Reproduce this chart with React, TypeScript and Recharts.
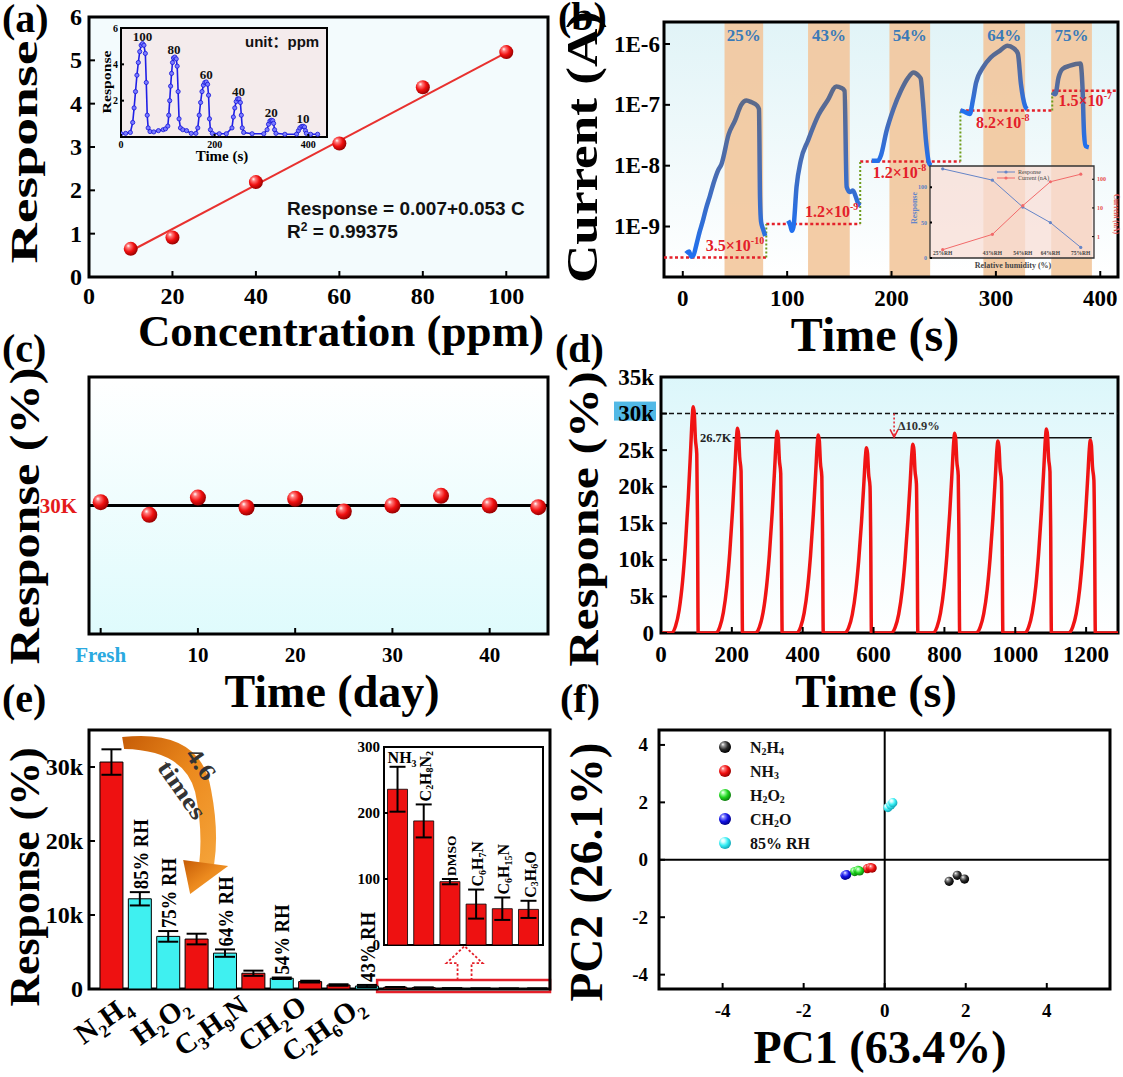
import React from 'react';
import {
  ComposedChart, Line, Scatter, Bar, Cell, ErrorBar, XAxis, YAxis,
  ReferenceArea, ReferenceLine, ReferenceDot,
} from 'recharts';

const SERIF = "'Liberation Serif','Times New Roman',Times,serif";
const SANS = "'Liberation Sans',Arial,'Noto Sans CJK SC',sans-serif";

// ================= DATA =================
// (a) linear calibration
const aConcentration = [10, 20, 40, 60, 80, 100];
const aResponse = [0.65, 0.91, 2.19, 3.08, 4.38, 5.19];
const aFitConcentration = [10, 100];
const aFitResponse = [0.6, 5.18];
const aTicksX = [0, 20, 40, 60, 80, 100];
const aTicksY = [0, 1, 2, 3, 4, 5, 6];
// (a) inset: dynamic response trace [time s, response]
const aInsetTrace: [number, number][] = [
  [0, 0.18], [10, 0.2], [20, 0.25], [25, 0.8], [28, 1.6], [31, 2.5], [34, 3.4], [37, 4.1], [40, 4.7], [43, 5.05], [46, 5.14], [49, 5.05], [52, 4.6], [54, 3.0], [56, 1.2], [58, 0.5], [62, 0.3],
  [70, 0.28], [80, 0.35], [90, 0.4], [95, 0.45], [100, 0.6], [102, 1.2], [104, 2.0], [106, 2.8], [108, 3.5], [110, 4.1], [112, 4.35], [115, 4.4], [118, 4.3], [120, 3.9], [122, 2.5], [124, 1.0], [127, 0.5], [132, 0.4], [140, 0.35], [150, 0.2], [160, 0.2],
  [164, 0.5], [167, 1.2], [170, 1.9], [173, 2.5], [176, 2.85], [179, 3.0], [182, 3.03], [185, 2.9], [187, 2.3], [189, 1.0], [191, 0.4], [195, 0.2], [210, 0.18], [225, 0.18],
  [237, 0.5], [240, 1.1], [243, 1.6], [246, 1.95], [249, 2.1], [252, 2.1], [255, 1.9], [257, 1.2], [259, 0.5], [262, 0.25], [280, 0.18], [305, 0.18],
  [312, 0.4], [315, 0.7], [318, 0.88], [321, 0.92], [324, 0.9], [326, 0.75], [328, 0.4], [331, 0.2], [350, 0.15], [375, 0.16],
  [379, 0.35], [382, 0.5], [386, 0.58], [389, 0.59], [392, 0.55], [394, 0.35], [396, 0.2], [405, 0.15], [420, 0.15],
];
const aInsetPeakTime = [46, 113, 182, 251, 321, 389];
const aInsetPeakResp = [5.14, 4.4, 3.03, 2.11, 0.92, 0.59];
const aInsetPeakLabel = ['100', '80', '60', '40', '20', '10'];
const aInsetTicksX = [0, 200, 400];
const aInsetTicksY = [2, 4, 6];

// (b) current vs time under humidity pulses [time s, current A]
const bSeg1: [number, number][] = [[3, 3.6e-10], [6, 3.9e-10], [8, 3.2e-10], [10, 3.3e-10], [13, 5e-10], [16, 8e-10], [19, 1.2e-9], [22, 1.9e-9], [26, 3.2e-9], [30, 5.5e-9], [34, 8.5e-9], [37, 1.05e-8], [44, 3.3e-8], [50, 5.5e-8], [56, 1e-7], [61, 1.18e-7], [66, 1.1e-7], [71, 9.8e-8], [73, 8.5e-8], [74, 3e-9], [75, 1.2e-9], [77, 9e-10], [79, 7e-10]];
const bSeg2: [number, number][] = [[101, 1.25e-9], [103, 1.05e-9], [104.5, 8.5e-10], [106, 9.7e-10], [109, 4.5e-9], [113, 1.2e-8], [120, 2.6e-8], [130, 6.8e-8], [139, 1.2e-7], [147, 2e-7], [152, 1.9e-7], [155, 1.7e-7], [157, 4.5e-9], [160, 3.7e-9], [163, 3.9e-9], [166, 3e-9], [168, 2.4e-9], [170, 2.2e-9]];
const bSeg3: [number, number][] = [[181, 1.2e-8], [187, 1.2e-8], [190, 1.5e-8], [195, 3.6e-8], [202, 8.7e-8], [209, 1.7e-7], [216, 2.8e-7], [221, 3.4e-7], [226, 3e-7], [228, 2.7e-7], [230, 1.2e-7], [233, 2.6e-8], [236, 1.1e-8], [238, 1e-8]];
const bSeg4: [number, number][] = [[266, 8.1e-8], [269, 7.8e-8], [275, 7.1e-8], [278, 1.2e-7], [281, 2.3e-7], [288, 4.2e-7], [295, 6e-7], [304, 7.8e-7], [311, 9.4e-7], [317, 8.5e-7], [321, 7e-7], [324, 2.2e-7], [328, 9.5e-8], [330, 8.5e-8]];
const bSeg5: [number, number][] = [[354, 1.6e-7], [357, 1.5e-7], [360, 2.8e-7], [364, 3.9e-7], [371, 4.4e-7], [381, 4.8e-7], [383, 1.9e-7], [384.5, 3.3e-8], [386, 2.1e-8], [389, 2e-8]];
const bBandStart = [40, 120, 198, 288, 353];
const bBandEnd = [77, 160, 237, 328, 392];
const bBandLabel = ['25%', '43%', '54%', '64%', '75%'];
const bBaseStart = [-18, 80, 170, 266, 354];
const bBaseEnd = [80, 170, 266, 354, 417];
const bBaseLevel = [3.1e-10, 1.1e-9, 1.17e-8, 8.1e-8, 1.7e-7];
const bBaseMantissa = ['3.5', '1.2', '1.2', '8.2', '1.5'];
const bBaseExponent = ['-10', '-9', '-8', '-8', '-7'];
const bBaseLabelT = [22, 117, 182, 281, 360];
const bBaseLabelI = [3.9e-10, 1.45e-9, 6.3e-9, 4.2e-8, 9.4e-8];
const bTicksX = [0, 100, 200, 300, 400];
const bTicksY = [1e-9, 1e-8, 1e-7, 1e-6];
// (b) inset
const bInsetRH = [25, 43, 54, 64, 75];
const bInsetResponse = [126, 110, 72, 50, 15];
const bInsetCurrent = [0.35, 1.2, 12, 82, 150];

// (c) long-term stability
const cDays = [0, 5, 10, 15, 20, 25, 30, 35, 40, 45];
const cResponse = [30780, 27830, 31860, 29530, 31550, 28600, 30000, 32250, 30000, 29610];
const cTicksX = [0, 10, 20, 30, 40];

// (d) repeated cycles [time s, response %]
const dTrace: [number, number][] = [
  [0, 0], [29, 0], [41, 930], [51, 3090], [61, 7120], [69, 12070], [77, 18560], [84, 25370], [88, 29390], [91, 30940], [94, 30010], [97, 26610], [101, 24440], [103, 15470], [105, 0],
  [154, 0], [166, 840], [176, 2800], [186, 6440], [194, 10920], [202, 16800], [209, 22960], [213, 26600], [216, 28000], [219, 27160], [222, 24080], [226, 22120], [228, 14000], [230, 0],
  [266, 0], [278, 830], [288, 2760], [298, 6350], [306, 10760], [314, 16560], [321, 22630], [325, 26220], [328, 27600], [331, 26770], [334, 23740], [338, 21800], [340, 13800], [342, 0],
  [382, 0], [394, 810], [404, 2710], [414, 6230], [422, 10560], [430, 16240], [437, 22200], [441, 25720], [444, 27070], [447, 26260], [450, 23280], [454, 21390], [456, 13540], [458, 0],
  [518, 0], [530, 760], [540, 2530], [550, 5830], [558, 9880], [566, 15200], [573, 20780], [577, 24070], [580, 25340], [583, 24580], [586, 21790], [590, 20020], [592, 12670], [594, 0],
  [649, 0], [661, 770], [671, 2580], [681, 5930], [689, 10060], [697, 15480], [704, 21160], [708, 24510], [711, 25800], [714, 25030], [717, 22190], [721, 20380], [723, 12900], [725, 0],
  [767, 0], [779, 820], [789, 2730], [799, 6280], [807, 10650], [815, 16380], [822, 22390], [826, 25940], [829, 27300], [832, 26480], [835, 23480], [839, 21570], [841, 13650], [843, 0],
  [889, 0], [901, 790], [911, 2630], [921, 6040], [929, 10240], [937, 15750], [944, 21530], [948, 24940], [951, 26250], [954, 25460], [957, 22580], [961, 20740], [963, 13130], [965, 0],
  [1026, 0], [1038, 840], [1048, 2790], [1058, 6410], [1066, 10880], [1074, 16730], [1081, 22870], [1085, 26500], [1088, 27890], [1091, 27050], [1094, 23990], [1098, 22030], [1100, 13950], [1102, 0],
  [1150, 0], [1162, 790], [1172, 2640], [1182, 6070], [1190, 10290], [1198, 15830], [1205, 21640], [1209, 25070], [1212, 26390], [1215, 25600], [1218, 22700], [1222, 20850], [1224, 13200], [1226, 0],
  [1290, 0],
];
const dTicksX = [0, 200, 400, 600, 800, 1000, 1200];
const dTicksY = [0, 5000, 10000, 15000, 20000, 25000, 30000, 35000];

// (e) selectivity
const eMainCategories = ['N2H4', '85% RH', '75% RH', 'H2O2', '64% RH', 'C3H9N', '54% RH', 'CH2O', 'C2H6O2', '43% RH'];
const eMainValues = [30670, 12190, 7110, 6750, 4850, 2130, 1450, 1000, 540, 400];
const eMainErrors = [1720, 900, 720, 720, 500, 350, 100, 120, 100, 150];
const eTraceCategories = ['NH3', 'C2H8N2', 'DMSO', 'C6H7N', 'C6H15N', 'C3H6O'];
const eTraceValues = [236, 188, 96, 62, 55, 54];
const eTraceErrors = [34, 25, 4, 22, 17, 13];
const eTickNames = ['N2H4', 'H2O2', 'C3H9N', 'CH2O', 'C2H6O2'];
const eTickPos = [0.8, 2.85, 4.9, 6.95, 9.0];
const eTicksY = [0, 10000, 20000, 30000];
const eInsetTicksY = [0, 100, 200, 300];

// (f) PCA scores [PC1, PC2]
const fN2H4: [number, number][] = [[1.59, -0.75], [1.79, -0.54], [1.97, -0.67]];
const fNH3: [number, number][] = [[-0.43, -0.31], [-0.36, -0.27], [-0.31, -0.29]];
const fH2O2: [number, number][] = [[-0.74, -0.41], [-0.66, -0.37], [-0.62, -0.39]];
const fCH2O: [number, number][] = [[-0.98, -0.54], [-0.94, -0.52]];
const fRH85: [number, number][] = [[0.08, 1.82], [0.15, 1.91], [0.2, 1.99]];
const fTicks = [-4, -2, 0, 2, 4];

// ================= HELPERS =================
type Frame = { x1: number; y1: number; x2: number; y2: number };
type Pad = { l: number; t: number; r: number; b: number };
const geom = (f: Frame, p: Pad, z = 1) => ({
  w: f.x2 - f.x1 + p.l + p.r,
  h: f.y2 - f.y1 + p.t + p.b,
  style: { position: 'absolute' as const, left: f.x1 - p.l, top: f.y1 - p.t, zIndex: z },
});
const axisBase: any = { axisLine: false, tickLine: false, tickSize: 0, tickMargin: 0, interval: 0, allowDataOverflow: true };
const xy = (arr: [number, number][]) => arr.map(([x, y]) => ({ x, y }));

const formula = (s: string, fs: number, shift = 0.28) => {
  const parts = s.match(/\d+|\D+/g) || [];
  let prevSub = false;
  return parts.map((p, i) => {
    const isSub = /^\d+$/.test(p);
    const dy = isSub ? fs * shift : prevSub ? -fs * shift : 0;
    prevSub = isSub;
    return <tspan key={i} fontSize={isSub ? fs * 0.62 : fs} dy={dy}>{p}</tspan>;
  });
};

function XTick(p: any) {
  const { x, y, payload, fs, dy = 24, inner = 0, fmt, colorFn, family = SERIF } = p;
  const v = payload.value;
  const label = fmt ? fmt(v) : String(v);
  return (
    <g>
      {inner ? <line x1={x} x2={x} y1={y} y2={y - inner} stroke="#000" strokeWidth={2} /> : null}
      <text x={x} y={y + dy} textAnchor="middle" fontSize={fs} fontFamily={family} fontWeight="bold" fill={colorFn ? colorFn(v) : '#000'}>{label}</text>
    </g>
  );
}
function YTick(p: any) {
  const { x, y, payload, fs, dx = 6, inner = 0, fmt, colorFn, hl, right } = p;
  const v = payload.value;
  const label = fmt ? fmt(v) : String(v);
  const s = right ? 1 : -1;
  return (
    <g>
      {inner ? <line x1={x} x2={x - s * inner} y1={y} y2={y} stroke="#000" strokeWidth={right ? 1 : 2} /> : null}
      {hl && hl(v) ? <rect x={x - dx - 40} y={y - 12} width={42} height={19} fill="#52b9e6" /> : null}
      <text x={x + s * dx} y={y} textAnchor={right ? 'start' : 'end'} dominantBaseline="central" fontSize={fs} fontFamily={SERIF} fontWeight="bold" fill={colorFn ? colorFn(v) : '#000'}>{label}</text>
    </g>
  );
}
const kfmt = (v: number) => (v === 0 ? '0' : `${v / 1000}k`);
const sphere = (r: number, id: string) => (p: any) => <circle cx={p.cx} cy={p.cy} r={r} fill={`url(#${id})`} />;

// ================= PANELS =================
function PanelA() {
  const F = { x1: 89, y1: 17, x2: 548, y2: 277 }, P = { l: 60, t: 16, r: 6, b: 40 };
  const g = geom(F, P);
  const pts = aConcentration.map((x, i) => ({ x, y: aResponse[i] }));
  const fit = aFitConcentration.map((x, i) => ({ x, y: aFitResponse[i] }));
  return (
    <div style={g.style}>
      <ComposedChart width={g.w} height={g.h} margin={{ top: P.t, right: P.r, bottom: 0, left: 0 }}>
        <XAxis type="number" dataKey="x" domain={[0, 110]} ticks={aTicksX} height={P.b} {...axisBase} tick={(p: any) => <XTick {...p} fs={24} dy={27} inner={6} />} />
        <YAxis type="number" dataKey="y" domain={[0, 6]} ticks={aTicksY} width={P.l} {...axisBase} tick={(p: any) => <YTick {...p} fs={24} dx={7} inner={6} />} />
        <ReferenceArea x1={0} x2={110} y1={0} y2={6} fill="#e7f8fb" stroke="none" ifOverflow="visible" />
        <Line data={fit} dataKey="y" type="linear" stroke="#e8312f" strokeWidth={2} dot={false} isAnimationActive={false} />
        <Scatter data={pts} dataKey="y" isAnimationActive={false} shape={sphere(7, 'sphRed')} />
        <ReferenceArea x1={0} x2={110} y1={0} y2={6} fill="none" stroke="#000" strokeWidth={3} ifOverflow="visible" />
      </ComposedChart>
    </div>
  );
}

function PanelAInset() {
  const F = { x1: 121, y1: 28, x2: 327, y2: 137 }, P = { l: 26, t: 8, r: 4, b: 30 };
  const g = geom(F, P, 2);
  const data = xy(aInsetTrace);
  return (
    <div style={g.style}>
      <ComposedChart width={g.w} height={g.h} margin={{ top: P.t, right: P.r, bottom: 0, left: 0 }}>
        <XAxis type="number" dataKey="x" domain={[0, 440]} ticks={aInsetTicksX} height={P.b} {...axisBase} tick={(p: any) => <XTick {...p} fs={10} dy={11} inner={3} />} />
        <YAxis type="number" dataKey="y" domain={[0, 6]} ticks={aInsetTicksY} width={P.l} {...axisBase} tick={(p: any) => <YTick {...p} fs={10} dx={3} inner={3} />} />
        <ReferenceArea x1={0} x2={440} y1={0} y2={6} fill="#f6dcdc" stroke="none" ifOverflow="visible" />
        <Line data={data} dataKey="y" type="linear" stroke="#1f1fe6" strokeWidth={1.6} isAnimationActive={false}
          dot={(p: any) => <circle key={`ad${p.index}`} cx={p.cx} cy={p.cy} r={2.1} fill="#7c7cff" stroke="#1414d8" strokeWidth={0.8} />} />
        {aInsetPeakTime.map((t, i) => (
          <ReferenceDot key={i} x={t} y={aInsetPeakResp[i]} r={0} ifOverflow="visible"
            shape={(p: any) => <text x={p.cx} y={p.cy - 3} textAnchor="middle" fontSize={13} fontFamily={SERIF} fontWeight="bold" fill="#111">{aInsetPeakLabel[i]}</text>} />
        ))}
        <ReferenceArea x1={0} x2={440} y1={0} y2={6} fill="none" stroke="#000" strokeWidth={2} ifOverflow="visible" />
      </ComposedChart>
    </div>
  );
}

function PanelB() {
  const F = { x1: 664, y1: 22, x2: 1118, y2: 277 }, P = { l: 62, t: 16, r: 5, b: 40 };
  const g = geom(F, P);
  const X0 = -18, X1 = 417, Y0 = 1.48e-10, Y1 = 2.3e-6;
  const segs = [bSeg1, bSeg2, bSeg3, bSeg4, bSeg5];
  return (
    <div style={g.style}>
      <ComposedChart width={g.w} height={g.h} margin={{ top: P.t, right: P.r, bottom: 0, left: 0 }}>
        <XAxis type="number" dataKey="x" domain={[X0, X1]} ticks={bTicksX} height={P.b} {...axisBase} tick={(p: any) => <XTick {...p} fs={23} dy={29} inner={6} />} />
        <YAxis type="number" dataKey="y" scale="log" domain={[Y0, Y1]} ticks={bTicksY} width={P.l} {...axisBase}
          tick={(p: any) => <YTick {...p} fs={23} dx={4} inner={6} fmt={(v: number) => `1E${Math.round(Math.log10(v))}`} />} />
        <ReferenceArea x1={X0} x2={X1} y1={Y0} y2={Y1} fill="url(#bgB)" stroke="none" ifOverflow="visible" />
        {bBandStart.map((s, i) => (
          <ReferenceArea key={`band${i}`} x1={s} x2={bBandEnd[i]} y1={Y0} y2={Y1} fill="#f2c79c" fillOpacity={0.9} stroke="none" ifOverflow="visible" />
        ))}
        {bBaseStart.map((s, i) => (
          <ReferenceLine key={`base${i}`} segment={[{ x: s, y: bBaseLevel[i] }, { x: bBaseEnd[i], y: bBaseLevel[i] }]} stroke="#e4202a" strokeWidth={2.5} strokeDasharray="3 2.5" ifOverflow="visible" />
        ))}
        {bBaseEnd.slice(0, 4).map((e, i) => (
          <ReferenceLine key={`step${i}`} segment={[{ x: e, y: bBaseLevel[i] }, { x: e, y: bBaseLevel[i + 1] }]} stroke="#6f9c1c" strokeWidth={2} strokeDasharray="2 2" ifOverflow="visible" />
        ))}
        {segs.map((s, i) => (
          <Line key={`seg${i}`} data={xy(s)} dataKey="y" type="monotone" stroke="url(#curveB)" strokeWidth={4.5} dot={false} isAnimationActive={false} />
        ))}
        {bBandLabel.map((l, i) => (
          <ReferenceDot key={`bl${i}`} x={(bBandStart[i] + bBandEnd[i]) / 2} y={1.37e-6} r={0} ifOverflow="visible"
            shape={(p: any) => <text x={p.cx} y={p.cy} textAnchor="middle" dominantBaseline="central" fontSize={17} fontFamily={SERIF} fontWeight="bold" fill="#3a7ab8">{l}</text>} />
        ))}
        {bBaseLabelT.map((t, i) => (
          <ReferenceDot key={`rl${i}`} x={t} y={bBaseLabelI[i]} r={0} ifOverflow="visible"
            shape={(p: any) => (
              <text x={p.cx} y={p.cy} fontSize={16} fontFamily={SERIF} fontWeight="bold" fill="#e4202a">
                <tspan>{bBaseMantissa[i]}×10</tspan>
                <tspan fontSize={10} dy={-7}>{bBaseExponent[i]}</tspan>
              </text>
            )} />
        ))}
        <ReferenceArea x1={X0} x2={X1} y1={Y0} y2={Y1} fill="none" stroke="#000" strokeWidth={3} ifOverflow="visible" />
      </ComposedChart>
    </div>
  );
}

function PanelBInset() {
  const F = { x1: 930, y1: 166, x2: 1094, y2: 258 }, P = { l: 22, t: 4, r: 24, b: 4 };
  const g = geom(F, P, 2);
  const data = bInsetRH.map((x, i) => ({ x, resp: bInsetResponse[i], curr: bInsetCurrent[i] }));
  return (
    <div style={g.style}>
      <ComposedChart data={data} width={g.w} height={g.h} margin={{ top: P.t, right: 0, bottom: 0, left: 0 }}>
        <XAxis type="number" dataKey="x" domain={[20.4, 79.8]} ticks={bInsetRH} height={P.b} {...axisBase}
          tick={(p: any) => <XTick {...p} fs={5.5} dy={-3} fmt={(v: number) => `${v}%RH`} colorFn={() => '#444'} />} />
        <YAxis yAxisId="l" type="number" domain={[0, 130]} ticks={[0, 50, 100]} width={P.l} {...axisBase}
          tick={(p: any) => <YTick {...p} fs={6} dx={3} inner={2} colorFn={() => '#5b7fc4'} />} />
        <YAxis yAxisId="r" orientation="right" type="number" scale="log" domain={[0.18, 290]} ticks={[1, 10, 100]} width={P.r} {...axisBase}
          tick={(p: any) => <YTick {...p} fs={6} dx={3} inner={2} right colorFn={() => '#e85050'} />} />
        <ReferenceArea yAxisId="l" x1={20.4} x2={79.8} y1={0} y2={130} fill="#f8ddd6" fillOpacity={0.75} stroke="none" ifOverflow="visible" />
        <Line yAxisId="l" dataKey="resp" type="linear" stroke="#6585c8" strokeWidth={1} isAnimationActive={false}
          dot={(p: any) => <circle key={`br${p.index}`} cx={p.cx} cy={p.cy} r={1.6} fill="#6585c8" />} />
        <Line yAxisId="r" dataKey="curr" type="linear" stroke="#f26a6a" strokeWidth={1} isAnimationActive={false}
          dot={(p: any) => <circle key={`bc${p.index}`} cx={p.cx} cy={p.cy} r={1.6} fill="#f26a6a" />} />
        <ReferenceArea yAxisId="l" x1={20.4} x2={79.8} y1={0} y2={130} fill="none" stroke="#333" strokeWidth={1.3} ifOverflow="visible" />
      </ComposedChart>
    </div>
  );
}

function PanelC() {
  const F = { x1: 89, y1: 377, x2: 548, y2: 634 }, P = { l: 60, t: 16, r: 6, b: 40 };
  const g = geom(F, P);
  const pts = cDays.map((x, i) => ({ x, y: cResponse[i] }));
  return (
    <div style={g.style}>
      <ComposedChart width={g.w} height={g.h} margin={{ top: P.t, right: P.r, bottom: 0, left: 0 }}>
        <XAxis type="number" dataKey="x" domain={[-1.2, 46]} ticks={cTicksX} height={P.b} {...axisBase}
          tick={(p: any) => <XTick {...p} fs={21} dy={28} inner={6} fmt={(v: number) => (v === 0 ? 'Fresh' : String(v))} colorFn={(v: number) => (v === 0 ? '#2aa9e0' : '#000')} />} />
        <YAxis type="number" dataKey="y" domain={[0, 60000]} ticks={[30000]} width={P.l} {...axisBase}
          tick={(p: any) => <YTick {...p} fs={21} dx={12} fmt={() => '30K'} colorFn={() => '#e41a1a'} />} />
        <ReferenceArea x1={-1.2} x2={46} y1={0} y2={60000} fill="url(#bgC)" stroke="none" ifOverflow="visible" />
        <ReferenceLine y={30000} stroke="#000" strokeWidth={3} />
        <Scatter data={pts} dataKey="y" isAnimationActive={false} shape={sphere(8, 'sphRed')} />
        <ReferenceArea x1={-1.2} x2={46} y1={0} y2={60000} fill="none" stroke="#000" strokeWidth={3} ifOverflow="visible" />
      </ComposedChart>
    </div>
  );
}

function PanelD() {
  const F = { x1: 661, y1: 377, x2: 1118, y2: 633 }, P = { l: 58, t: 16, r: 5, b: 40 };
  const g = geom(F, P);
  const data = xy(dTrace);
  return (
    <div style={g.style}>
      <ComposedChart width={g.w} height={g.h} margin={{ top: P.t, right: P.r, bottom: 0, left: 0 }}>
        <XAxis type="number" dataKey="x" domain={[0, 1290]} ticks={dTicksX} height={P.b} {...axisBase} tick={(p: any) => <XTick {...p} fs={23} dy={29} inner={6} />} />
        <YAxis type="number" dataKey="y" domain={[0, 35000]} ticks={dTicksY} width={P.l} {...axisBase}
          tick={(p: any) => <YTick {...p} fs={23} dx={7} inner={6} fmt={kfmt} hl={(v: number) => v === 30000} />} />
        <ReferenceArea x1={0} x2={1290} y1={0} y2={35000} fill="url(#bgD)" stroke="none" ifOverflow="visible" />
        <ReferenceLine y={30000} stroke="#111" strokeWidth={1.5} strokeDasharray="5 3" />
        <ReferenceLine segment={[{ x: 202, y: 26700 }, { x: 1216, y: 26700 }]} stroke="#111" strokeWidth={1.5} />
        <ReferenceLine segment={[{ x: 658, y: 30000 }, { x: 658, y: 26950 }]} stroke="#e4202a" strokeWidth={1.5} strokeDasharray="2 2" />
        <Line data={data} dataKey="y" type="monotone" stroke="#f01414" strokeWidth={3.5} dot={false} isAnimationActive={false} />
        <ReferenceDot x={658} y={26750} r={0} ifOverflow="visible"
          shape={(p: any) => <path d={`M${p.cx - 4} ${p.cy - 8} L${p.cx} ${p.cy} L${p.cx + 4} ${p.cy - 8}`} stroke="#e4202a" strokeWidth={1.5} fill="none" />} />
        <ReferenceDot x={668} y={28300} r={0} ifOverflow="visible"
          shape={(p: any) => <text x={p.cx} y={p.cy} dominantBaseline="central" fontSize={12.5} fontFamily={SERIF} fontWeight="bold" fill="#333">Δ10.9%</text>} />
        <ReferenceDot x={199} y={26700} r={0} ifOverflow="visible"
          shape={(p: any) => <text x={p.cx} y={p.cy} textAnchor="end" dominantBaseline="central" fontSize={12.5} fontFamily={SERIF} fontWeight="bold" fill="#222">26.7K</text>} />
        <ReferenceArea x1={0} x2={1290} y1={0} y2={35000} fill="none" stroke="#000" strokeWidth={3} ifOverflow="visible" />
      </ComposedChart>
    </div>
  );
}

function PanelE() {
  const F = { x1: 89, y1: 730, x2: 550, y2: 989 }, P = { l: 60, t: 16, r: 6, b: 87 };
  const g = geom(F, P);
  const cats = [...eMainCategories, ...eTraceCategories];
  const vals = [...eMainValues, ...eTraceValues];
  const errs = [...eMainErrors, ...eTraceErrors];
  const data = cats.map((c, i) => ({ x: i, v: vals[i], err: errs[i] }));
  const isRH = (i: number) => /RH$/.test(cats[i]);
  const X0 = -0.78, X1 = 15.46;
  return (
    <div style={g.style}>
      <ComposedChart data={data} width={g.w} height={g.h} margin={{ top: P.t, right: P.r, bottom: 0, left: 0 }}>
        <XAxis type="number" dataKey="x" domain={[X0, X1]} ticks={eTickPos} height={P.b} {...axisBase}
          tick={(p: any) => (
            <text transform={`translate(${p.x},${p.y + 21}) rotate(-35)`} textAnchor="end" fontSize={29} fontFamily={SERIF} fontWeight="bold" fill="#000">
              {formula(eTickNames[eTickPos.indexOf(p.payload.value)] || '', 29, 0.22)}
            </text>
          )} />
        <YAxis type="number" domain={[0, 35000]} ticks={eTicksY} width={P.l} {...axisBase}
          tick={(p: any) => <YTick {...p} fs={24} dx={6} inner={6} fmt={kfmt} />} />
        <Bar dataKey="v" barSize={23} stroke="#000" strokeWidth={1} isAnimationActive={false}>
          {data.map((d, i) => <Cell key={i} fill={isRH(i) ? '#3ff0f0' : '#ee1111'} />)}
          <ErrorBar dataKey="err" width={10} strokeWidth={2} stroke="#000" isAnimationActive={false} />
        </Bar>
        {data.map((d, i) => (isRH(i) ? (
          <ReferenceDot key={`rh${i}`} x={i} y={d.v + d.err} r={0} ifOverflow="visible"
            shape={(p: any) => (
              <text transform={`translate(${p.cx + 1},${p.cy - 3}) rotate(-90)`} textAnchor="start" dominantBaseline="central" fontSize={20} fontFamily={SERIF} fontWeight="bold" fill="#000" textLength={70} lengthAdjust="spacingAndGlyphs">{cats[i]}</text>
            )} />
        ) : null))}
        <ReferenceArea x1={9.37} x2={X1} y1={-420} y2={1200} fill="none" stroke="#e4202a" strokeWidth={2.5} ifOverflow="visible" />
        <ReferenceDot x={12.45} y={1200} r={0} ifOverflow="visible"
          shape={(p: any) => (
            <polyline points={`${p.cx - 7},${p.cy} ${p.cx - 7},${p.cy - 17} ${p.cx - 18},${p.cy - 17} ${p.cx},${p.cy - 34} ${p.cx + 18},${p.cy - 17} ${p.cx + 7},${p.cy - 17} ${p.cx + 7},${p.cy}`}
              fill="none" stroke="#e4202a" strokeWidth={1.8} strokeDasharray="2.5 2" />
          )} />
        <ReferenceDot x={0} y={eMainValues[0]} r={0} ifOverflow="visible"
          shape={(p: any) => {
            const X = (dx: number) => p.cx + dx, Y = (dy: number) => p.cy + dy;
            const body = `M${X(11)} ${Y(-25)} Q${X(90)} ${Y(-34)} ${X(100)} ${Y(28)} Q${X(108)} ${Y(70)} ${X(103)} ${Y(102)} L${X(88)} ${Y(102)} Q${X(92)} ${Y(68)} ${X(84)} ${Y(30)} Q${X(73)} ${Y(-12)} ${X(13)} ${Y(-13)} Z`;
            const head = `M${X(72)} ${Y(98)} L${X(117)} ${Y(104)} L${X(79)} ${Y(132)} Z`;
            return (
              <g>
                <path d={body} fill="url(#arrowE)" />
                <path d={head} fill="url(#arrowE)" />
              </g>
            );
          }} />
        <ReferenceArea x1={X0} x2={X1} y1={0} y2={35000} fill="none" stroke="#000" strokeWidth={3} ifOverflow="visible" />
      </ComposedChart>
    </div>
  );
}

function PanelEInset() {
  const F = { x1: 384, y1: 747, x2: 543, y2: 945 }, P = { l: 30, t: 10, r: 2, b: 10 };
  const g = geom(F, P, 2);
  const data = eTraceCategories.map((c, i) => ({ x: i, v: eTraceValues[i], err: eTraceErrors[i] }));
  const X0 = -0.52, X1 = 5.55;
  return (
    <div style={g.style}>
      <ComposedChart data={data} width={g.w} height={g.h} margin={{ top: P.t, right: P.r, bottom: P.b, left: 0 }}>
        <XAxis type="number" dataKey="x" domain={[X0, X1]} hide allowDataOverflow />
        <YAxis type="number" domain={[0, 300]} ticks={eInsetTicksY} width={P.l} {...axisBase}
          tick={(p: any) => <YTick {...p} fs={15} dx={4} inner={4} />} />
        <ReferenceArea x1={X0} x2={X1} y1={0} y2={300} fill="#ffffff" stroke="none" ifOverflow="visible" />
        <Bar dataKey="v" barSize={20} fill="#ee1111" stroke="#000" strokeWidth={0.8} isAnimationActive={false}>
          <ErrorBar dataKey="err" width={8} strokeWidth={2} stroke="#000" isAnimationActive={false} />
        </Bar>
        {data.map((d, i) => (
          <ReferenceDot key={`il${i}`} x={i} y={d.v + d.err} r={0} ifOverflow="visible"
            shape={(p: any) => (i === 0 ? (
              <text x={p.cx - 10} y={p.cy - 4} fontSize={16} fontFamily={SERIF} fontWeight="bold" fill="#000">{formula(eTraceCategories[i], 16)}</text>
            ) : (
              <text transform={`translate(${p.cx + 1},${p.cy - 3}) rotate(-90)`} textAnchor="start" dominantBaseline="central" fontSize={i === 2 ? 13.5 : 16} fontFamily={SERIF} fontWeight="bold" fill="#000">{formula(eTraceCategories[i], i === 2 ? 13.5 : 16)}</text>
            ))} />
        ))}
        <ReferenceArea x1={X0} x2={X1} y1={0} y2={300} fill="none" stroke="#000" strokeWidth={2} ifOverflow="visible" />
      </ComposedChart>
    </div>
  );
}

function PanelF() {
  const F = { x1: 659, y1: 730, x2: 1110, y2: 989 }, P = { l: 50, t: 16, r: 6, b: 40 };
  const g = geom(F, P);
  const X0 = -5.57, X1 = 5.56, Y0 = -4.5, Y1 = 4.52;
  const groups: [[number, number][], string][] = [[fN2H4, 'sphBlack'], [fNH3, 'sphRed'], [fH2O2, 'sphGreen'], [fCH2O, 'sphBlue'], [fRH85, 'sphCyan']];
  return (
    <div style={g.style}>
      <ComposedChart width={g.w} height={g.h} margin={{ top: P.t, right: P.r, bottom: 0, left: 0 }}>
        <XAxis type="number" dataKey="x" domain={[X0, X1]} ticks={fTicks} height={P.b} {...axisBase} tick={(p: any) => <XTick {...p} fs={19} dy={28} inner={6} />} />
        <YAxis type="number" dataKey="y" domain={[Y0, Y1]} ticks={fTicks} width={P.l} {...axisBase} tick={(p: any) => <YTick {...p} fs={19} dx={11} inner={6} />} />
        <ReferenceLine x={0} stroke="#000" strokeWidth={2} />
        <ReferenceLine y={0} stroke="#000" strokeWidth={2} />
        {groups.map(([pts, id], i) => (
          <Scatter key={i} data={xy(pts)} dataKey="y" isAnimationActive={false} shape={sphere(4.6, id)} />
        ))}
        <ReferenceArea x1={X0} x2={X1} y1={Y0} y2={Y1} fill="none" stroke="#000" strokeWidth={3} ifOverflow="visible" />
      </ComposedChart>
    </div>
  );
}

// ================= DEFS & OVERLAY =================
const sphereGrad = (id: string, hi: string, mid: string, dark: string) => (
  <radialGradient id={id} cx="0.4" cy="0.38" r="0.62" fx="0.32" fy="0.28">
    <stop offset="0" stopColor="#ffffff" />
    <stop offset="0.22" stopColor={hi} />
    <stop offset="0.6" stopColor={mid} />
    <stop offset="1" stopColor={dark} />
  </radialGradient>
);

function GlobalDefs() {
  return (
    <svg width={0} height={0} style={{ position: 'absolute' }}>
      <defs>
        {sphereGrad('sphRed', '#ff7a7a', '#f01010', '#9a0000')}
        {sphereGrad('sphBlack', '#9a9a9a', '#2a2a2a', '#000000')}
        {sphereGrad('sphGreen', '#9dff9d', '#1fd41f', '#0b7d0b')}
        {sphereGrad('sphBlue', '#8a8aff', '#1414e6', '#000088')}
        {sphereGrad('sphCyan', '#d8ffff', '#38eef4', '#14a8b8')}
        <linearGradient id="bgB" x1="0" y1="0" x2="0" y2="1">
          <stop offset="0" stopColor="#c3e8ef" />
          <stop offset="1" stopColor="#ffffff" />
        </linearGradient>
        <linearGradient id="bgC" x1="0" y1="0" x2="0" y2="1">
          <stop offset="0" stopColor="#ffffff" />
          <stop offset="1" stopColor="#bff7fa" />
        </linearGradient>
        <linearGradient id="bgD" x1="0" y1="0" x2="0" y2="1">
          <stop offset="0" stopColor="#b9eef6" />
          <stop offset="1" stopColor="#ffffff" />
        </linearGradient>
        <linearGradient id="curveB" x1="0" y1="0" x2="0" y2="1">
          <stop offset="0" stopColor="#5c6a8a" />
          <stop offset="0.45" stopColor="#4a6cb0" />
          <stop offset="1" stopColor="#2070f0" />
        </linearGradient>
        <linearGradient id="arrowE" x1="0" y1="0" x2="1" y2="1">
          <stop offset="0" stopColor="#c65c06" />
          <stop offset="0.5" stopColor="#ec8a1e" />
          <stop offset="1" stopColor="#f5a43a" />
        </linearGradient>
      </defs>
    </svg>
  );
}

function Overlay() {
  const T = (p: any) => <text fontFamily={SERIF} fontWeight="bold" fill="#000" {...p} />;
  const VT = ({ cx, cy, len, fs, children, rot = -90, fill = '#000' }: any) => (
    <text transform={`translate(${cx},${cy}) rotate(${rot})`} textAnchor="middle" dominantBaseline="central" fontSize={fs}
      fontFamily={SERIF} fontWeight="bold" fill={fill} textLength={len} lengthAdjust="spacingAndGlyphs">{children}</text>
  );
  const legend: [string, string, boolean][] = [['N2H4', 'sphBlack', true], ['NH3', 'sphRed', true], ['H2O2', 'sphGreen', true], ['CH2O', 'sphBlue', true], ['85% RH', 'sphCyan', false]];
  return (
    <svg width={1123} height={1077} style={{ position: 'absolute', left: 0, top: 0, zIndex: 5, pointerEvents: 'none' }}>
      {/* panel letters */}
      <T x={2} y={32} fontSize={40}>(a)</T>
      <T x={558} y={30} fontSize={40}>(b)</T>
      <T x={2} y={362} fontSize={40}>(c)</T>
      <T x={555} y={362} fontSize={40}>(d)</T>
      <T x={2} y={712} fontSize={40}>(e)</T>
      <T x={560} y={712} fontSize={40}>(f)</T>
      {/* axis titles */}
      <VT cx={24} cy={152} len={223} fs={38}>Response</VT>
      <T x={341} y={346} fontSize={45} textAnchor="middle">Concentration (ppm)</T>
      <VT cx={582} cy={147} len={272} fs={44}>Current (A)</VT>
      <T x={875} y={351} fontSize={48} textAnchor="middle">Time (s)</T>
      <VT cx={25} cy={516} len={297} fs={42}>Response (%)</VT>
      <T x={332} y={707} fontSize={46} textAnchor="middle">Time (day)</T>
      <VT cx={584} cy={519} len={295} fs={42}>Response (%)</VT>
      <T x={876} y={707} fontSize={46} textAnchor="middle">Time (s)</T>
      <VT cx={25} cy={877} len={259} fs={42}>Response (%)</VT>
      <VT cx={586} cy={872} len={259} fs={46}>PC2 (26.1%)</VT>
      <T x={880} y={1063} fontSize={46} textAnchor="middle">PC1 (63.4%)</T>
      {/* (a) annotations */}
      <text x={287} y={215} fontFamily={SANS} fontWeight="bold" fontSize={19} fill="#111">Response = 0.007+0.053 C</text>
      <text x={287} y={238} fontFamily={SANS} fontWeight="bold" fontSize={19} fill="#111">R<tspan fontSize={12} dy={-7}>2</tspan><tspan dy={7}> = 0.99375</tspan></text>
      <text x={245} y={47} fontFamily={SANS} fontWeight="bold" fontSize={15} fill="#111">unit：ppm</text>
      <VT cx={106} cy={82} len={63} fs={13}>Response</VT>
      <T x={222} y={161} fontSize={15} textAnchor="middle">Time (s)</T>
      {/* (b) inset labels */}
      <T x={1013} y={268} fontSize={8} textAnchor="middle" fill="#444">Relative humidity (%)</T>
      <VT cx={914} cy={208} len={32} fs={7.5} fill="#6585c8">Response</VT>
      <VT cx={1116} cy={214} len={40} fs={7.5} rot={90} fill="#e85050">Current (nA)</VT>
      <line x1={997} x2={1015} y1={172} y2={172} stroke="#6585c8" strokeWidth={1} />
      <circle cx={1006} cy={172} r={1.6} fill="#6585c8" />
      <text x={1018} y={174} fontFamily={SERIF} fontSize={6} fill="#444">Response</text>
      <line x1={997} x2={1015} y1={178} y2={178} stroke="#f26a6a" strokeWidth={1} />
      <circle cx={1006} cy={178} r={1.6} fill="#f26a6a" />
      <text x={1018} y={180} fontFamily={SERIF} fontSize={6} fill="#444">Current (nA)</text>
      {/* (e) arrow text */}
      <text transform="translate(201,764) rotate(55)" textAnchor="middle" dominantBaseline="central" fontFamily={SERIF} fontWeight="bold" fontSize={24} fill="#333" textLength={34} lengthAdjust="spacingAndGlyphs">4.6</text>
      <text transform="translate(182,790) rotate(55)" textAnchor="middle" dominantBaseline="central" fontFamily={SERIF} fontWeight="bold" fontSize={24} fill="#333" textLength={66} lengthAdjust="spacingAndGlyphs">times</text>
      {/* (f) legend */}
      {legend.map(([name, id, f], i) => (
        <g key={name}>
          <circle cx={725} cy={747 + i * 24} r={6} fill={`url(#${id})`} />
          <text x={750} y={747 + i * 24} dominantBaseline="central" fontFamily={SERIF} fontWeight="bold" fontSize={16} fill="#111">
            {f ? formula(name, 16) : name}
          </text>
        </g>
      ))}
    </svg>
  );
}

export default function App() {
  return (
    <div style={{ position: 'absolute', left: 0, top: 0, width: 1123, height: 1077, background: '#fff', overflow: 'hidden', fontFamily: SERIF }}>
      <GlobalDefs />
      <PanelA />
      <PanelAInset />
      <PanelB />
      <PanelBInset />
      <PanelC />
      <PanelD />
      <PanelE />
      <PanelEInset />
      <PanelF />
      <Overlay />
    </div>
  );
}
